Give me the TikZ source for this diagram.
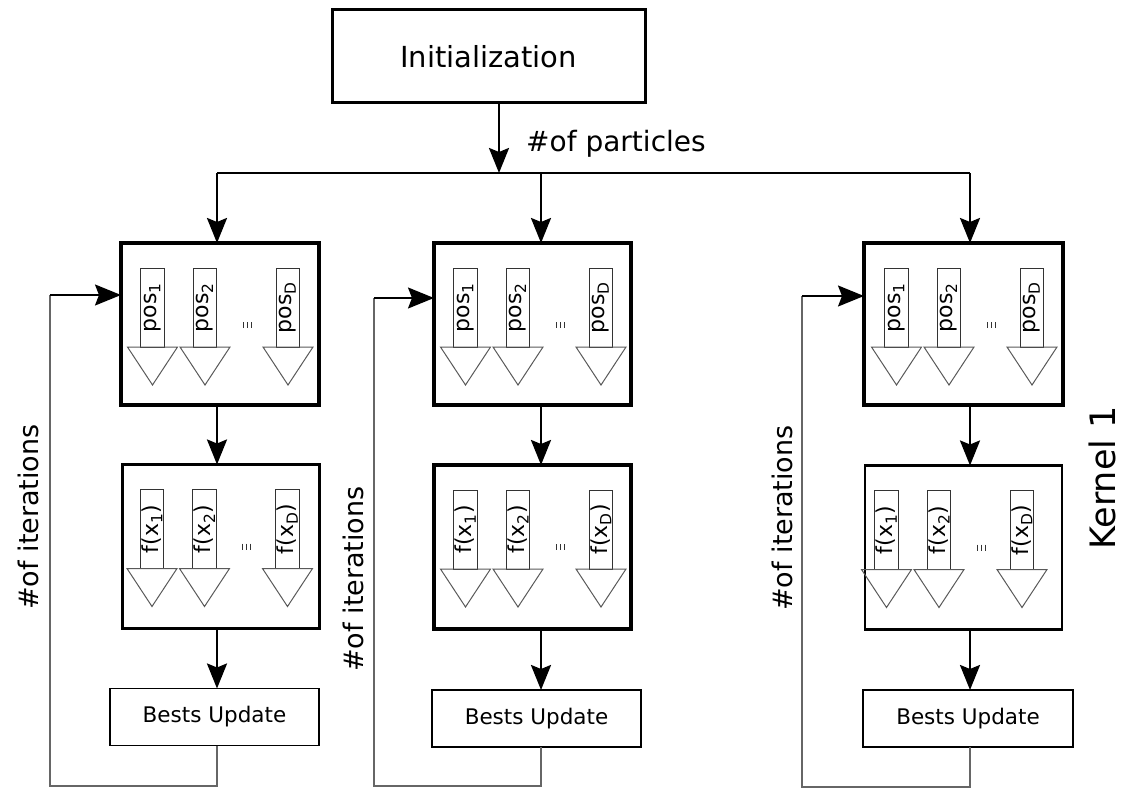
\documentclass[tikz,border=0pt]{standalone}
\usepackage{fontspec}
\setmainfont{DejaVu Sans}
\usetikzlibrary{arrows.meta}

\tikzset{
  bigbox/.style={draw, outer sep=0pt, inner sep=0pt},
  initbox/.style={bigbox, line width=3pt, minimum width=313pt, minimum height=93pt,
    font=\fontsize{29}{31}\selectfont},
  posbox/.style={bigbox, line width=3.5pt, minimum width=198pt, minimum height=162pt},
  evalbox/.style={bigbox, line width=2.8pt, minimum width=197pt, minimum height=164pt},
  bestbox/.style={bigbox, line width=1.4pt, minimum width=209pt, minimum height=57pt,
    font=\fontsize{21.5}{23}\selectfont},
  lane/.style={draw=black!80, line width=1pt, rotate=90, minimum width=79pt,
    minimum height=23.6pt, inner sep=0pt, outer sep=0pt, font=\fontsize{22}{22}\selectfont},
  wedge/.style={draw=black!65, line width=1pt, line join=miter},
  dotmark/.style={draw=black!80, line width=0.9pt},
  flow/.style={line width=2.6pt, -{Stealth[length=25pt,width=20pt,inset=4pt]}},
  bus/.style={line width=2.8pt},
  loopline/.style={draw=black!60, line width=1.4pt},
  looparrow/.style={line width=1.8pt, -{Stealth[length=26pt,width=21pt,inset=4pt]}},
  lbl/.style={font=\fontsize{28}{30}\selectfont, inner sep=0pt},
}

% position label, set a little toward the wedge end of its bar
\newcommand\posl[1]{pos\textsubscript{#1}\hspace{8pt}}

% three lanes (bar + wedge) inside a box, with an ellipsis between lane 2 and lane D
\newcommand\lanerow[5]{%
  \begin{scope}[shift={(#1.north west)}, xshift=#2]
    \node[lane] (#1-a) at (31.5,64.5) {#3};
    \node[lane] (#1-b) at (84,64.5) {#4};
    \node[lane] (#1-c) at (167,64.5) {#5};
    \foreach \lx in {31.5,84,167}
      \draw[wedge] (\lx-25,104) -- (\lx+25,104) -- (\lx,142) -- cycle;
    \foreach \dd in {-4,0,4}
      \draw[dotmark] (126+\dd,79) -- (126+\dd,85);
  \end{scope}}

\begin{document}
\begin{tikzpicture}[x=1pt, y=-1pt]
  \useasboundingbox (0,0) rectangle (1124,789);

  % initialization and particle fan-out
  \node[initbox] (init) at (488.5,56.5) {Initialization};
  \coordinate (busM) at (499,173);
  \coordinate (busL) at (217,173);
  \coordinate (busR) at (970,173);
  \coordinate (busC) at (541,173);
  \draw[flow] (init.south -| busM) -- (busM);
  \draw[bus] (busL) -- (busR);
  \node[lbl, anchor=base west] (npart) at (526,151) {\#of particles};

  % column boxes
  \node[posbox] (p1) at (220,324) {};
  \node[posbox, minimum width=197pt] (p2) at (532.5,324) {};
  \node[posbox, minimum width=199pt] (p3) at (963.5,324) {};

  \node[evalbox] (f1) at (221,546.5) {};
  \node[evalbox, line width=3.2pt] (f2) at (532.5,547) {};
  \node[evalbox] (f3) at (963.5,547.5) {};

  \node[bestbox] (b1) at (214.5,717) {Bests Update};
  \node[bestbox] (b2) at (536.5,718.5) {Bests Update};
  \node[bestbox, minimum width=210pt] (b3) at (968,718.5) {Bests Update};

  % lanes
  \lanerow{p1}{0pt}{\posl{1}}{\posl{2}}{\posl{D}}
  \lanerow{p2}{0pt}{\posl{1}}{\posl{2}}{\posl{D}}
  \lanerow{p3}{1pt}{\posl{1}}{\posl{2}}{\posl{D}}
  \lanerow{f1}{-2pt}{f(x\textsubscript{1})}{f(x\textsubscript{2})}{f(x\textsubscript{D})}
  \lanerow{f2}{0pt}{f(x\textsubscript{1})}{f(x\textsubscript{2})}{f(x\textsubscript{D})}
  \lanerow{f3}{-10pt}{f(x\textsubscript{1})}{f(x\textsubscript{2})}{f(x\textsubscript{D})}

  % vertical flow in each column
  \coordinate (c1) at (217,0);
  \coordinate (c2) at (541,0);
  \coordinate (c3) at (970,0);
  \draw[flow] (busL) -- (p1.north -| c1);
  \draw[flow] (busC) -- (p2.north -| c2);
  \draw[flow] (busR) -- (p3.north -| c3);
  \draw[flow] (p1.south -| c1) -- (f1.north -| c1);
  \draw[flow] (p2.south -| c2) -- (f2.north -| c2);
  \draw[flow] (p3.south -| c3) -- (f3.north -| c3);
  \draw[flow] (f1.south -| c1) -- (b1.north -| c1);
  \draw[flow] (f2.south -| c2) -- (b2.north -| c2);
  \draw[flow] (f3.south -| c3) -- (b3.north -| c3);

  % iteration loops
  \coordinate (l1a) at (217,786); \coordinate (l1b) at (50,786); \coordinate (l1c) at (50,295);
  \coordinate (l2a) at (541,786); \coordinate (l2b) at (374,786); \coordinate (l2c) at (374,298);
  \coordinate (l3a) at (970,787); \coordinate (l3b) at (802,787); \coordinate (l3c) at (802,296);
  \draw[loopline] (b1.south -| l1a) -- (l1a) -- (l1b) -- (l1c);
  \draw[loopline] (b2.south -| l2a) -- (l2a) -- (l2b) -- (l2c);
  \draw[loopline] (b3.south -| l3a) -- (l3a) -- (l3b) -- (l3c);
  \draw[looparrow] (l1c) -- (l1c -| p1.west);
  \draw[looparrow] (l2c) -- (l2c -| p2.west);
  \draw[looparrow] (l3c) -- (l3c -| p3.west);

  \node[lbl, font=\fontsize{27}{29}\selectfont, rotate=90] (it1) at (28,517) {\#of iterations};
  \node[lbl, font=\fontsize{27}{29}\selectfont, rotate=90] (it2) at (353,579) {\#of iterations};
  \node[lbl, font=\fontsize{27}{29}\selectfont, rotate=90] (it3) at (782,518) {\#of iterations};

  \node[rotate=90, inner sep=0pt, font=\fontsize{35}{36}\selectfont] (kern) at (1102,478) {Kernel 1};
\end{tikzpicture}
\end{document}
